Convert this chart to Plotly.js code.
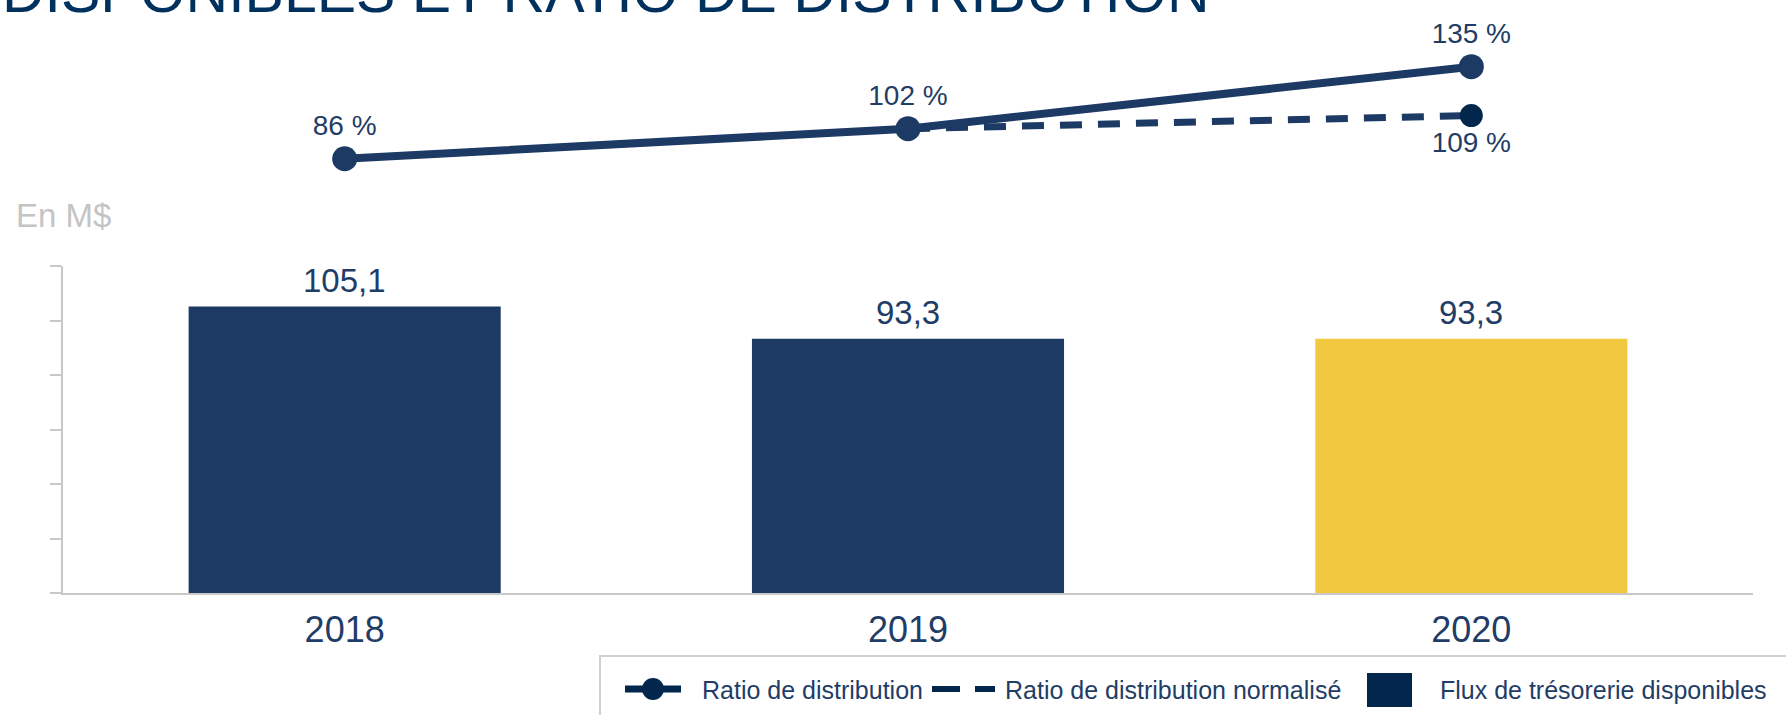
<!DOCTYPE html>
<html>
<head>
<meta charset="utf-8">
<script src="https://cdn.plot.ly/plotly-3.0.1.min.js"></script>
<style>html,body{margin:0;padding:0;background:#fff;}#chart{width:1786px;height:715px;}</style>
</head>
<body>
<div id="chart"></div>
<script>
// ---- data ----
const years = ['2018', '2019', '2020'];
const fluxValues = [105.1, 93.3, 93.3];
const ratioValues = [86, 102, 135];
const normYears = ['2019', '2020'];
const normValues = [102, 109];
const titleText = 'DISPONIBLES ET RATIO DE DISTRIBUTION';
const unitText = 'En M$';
const legendNames = ['Ratio de distribution', 'Ratio de distribution normalisé', 'Flux de trésorerie disponibles'];

// ---- styles ----
const NAVY = '#1c3a64';
const DARK = '#03264d';
const YELLOW = '#f2c840';
const TEXT = '#1f3d66';
const GRAY = '#c8c8c8';
const FONT = 'Liberation Sans, Arial, Helvetica, sans-serif';
const W = 1786, H = 715;
const M = {l: 63, r: 33, t: 30, b: 122};
const PW = W - M.l - M.r, PH = H - M.t - M.b;
const px = x => (x - M.l) / PW;
const py = y => (H - M.b - y) / PH;

const barColors = years.map((y, i) => i === years.length - 1 ? YELLOW : NAVY);
const fmtComma = v => v.toFixed(1).replace('.', ',');

const traces = [
  {
    type: 'bar', x: years, y: fluxValues, name: legendNames[2],
    marker: {color: barColors}, xaxis: 'x', yaxis: 'y', hoverinfo: 'skip'
  },
  {
    type: 'scatter', mode: 'lines+markers+text', x: normYears, y: normValues, name: legendNames[1],
    line: {color: NAVY, width: 7, dash: '22px,16px'},
    marker: {color: DARK, size: 23},
    text: normValues.map((v, i) => i === normValues.length - 1 ? v + ' %' : ''),
    textposition: 'bottom center',
    textfont: {family: FONT, size: 28, color: TEXT},
    cliponaxis: false, xaxis: 'x', yaxis: 'y2', hoverinfo: 'skip'
  },
  {
    type: 'scatter', mode: 'lines+markers+text', x: years, y: ratioValues, name: legendNames[0],
    line: {color: NAVY, width: 8},
    marker: {color: NAVY, size: 25},
    text: ratioValues.map(v => v + ' %'),
    textposition: 'top center',
    textfont: {family: FONT, size: 28, color: TEXT},
    cliponaxis: false, xaxis: 'x', yaxis: 'y2', hoverinfo: 'skip'
  }
];

const annotations = [
  {text: titleText, xref: 'paper', yref: 'paper', x: px(0), y: py(27), xanchor: 'left', yanchor: 'bottom',
   showarrow: false, font: {family: FONT, size: 59, color: '#00305e'}},
  {text: unitText, xref: 'paper', yref: 'paper', x: px(63), y: py(215), xanchor: 'center', yanchor: 'middle',
   showarrow: false, font: {family: FONT, size: 33, color: '#c4c4c4'}}
];
// bar value labels (category index positions on the x axis)
fluxValues.forEach((v, i) => annotations.push({
  text: fmtComma(v), x: i, y: v, xref: 'x', yref: 'y', xanchor: 'center', yanchor: 'bottom',
  yshift: 6, showarrow: false, font: {family: FONT, size: 33, color: TEXT}
}));

// legend (manual, to match the boxed legend running off the page)
const legY = 690;
annotations.push(
  {text: legendNames[0], xref: 'paper', yref: 'paper', x: px(700), y: py(legY), xanchor: 'left', yanchor: 'middle', showarrow: false, font: {family: FONT, size: 25, color: TEXT}},
  {text: legendNames[1], xref: 'paper', yref: 'paper', x: px(1003), y: py(legY), xanchor: 'left', yanchor: 'middle', showarrow: false, font: {family: FONT, size: 25, color: TEXT}},
  {text: legendNames[2], xref: 'paper', yref: 'paper', x: px(1438), y: py(legY), xanchor: 'left', yanchor: 'middle', showarrow: false, font: {family: FONT, size: 25, color: TEXT}}
);
const shapes = [
  {type: 'rect', xref: 'paper', yref: 'paper', x0: px(600), x1: px(1800), y0: py(656), y1: py(740), line: {color: '#d0d0d0', width: 2}, fillcolor: 'rgba(0,0,0,0)'},
  {type: 'line', xref: 'paper', yref: 'paper', x0: px(625), x1: px(681), y0: py(689), y1: py(689), line: {color: DARK, width: 7}},
  {type: 'circle', xref: 'paper', yref: 'paper', x0: px(642), x1: px(664), y0: py(678), y1: py(700), line: {width: 0}, fillcolor: DARK},
  {type: 'line', xref: 'paper', yref: 'paper', x0: px(932), x1: px(995), y0: py(689), y1: py(689), line: {color: DARK, width: 6, dash: '28px,15px'}},
  {type: 'rect', xref: 'paper', yref: 'paper', x0: px(1367), x1: px(1412), y0: py(673), y1: py(707), line: {width: 0}, fillcolor: DARK}
];

const layout = {
  width: W, height: H, margin: M, paper_bgcolor: '#fff', plot_bgcolor: '#fff',
  showlegend: false, bargap: 0.446,
  font: {family: FONT, color: TEXT},
  xaxis: {type: 'category', range: [-0.5, 2.5], showline: true, linecolor: GRAY, linewidth: 2,
          ticks: '', showgrid: false, zeroline: false, tickfont: {family: FONT, size: 36, color: TEXT},
          ticklabelstandoff: 4, fixedrange: true},
  yaxis: {domain: [0, 327 / PH], range: [0, 120], dtick: 20, tick0: 0, showline: true, linecolor: GRAY, linewidth: 2,
          ticks: 'outside', ticklen: 11, tickwidth: 2, tickcolor: GRAY, showticklabels: false,
          showgrid: false, zeroline: false, fixedrange: true},
  yaxis2: {domain: [0.6, 1], range: [34.7, 154.5], visible: false, anchor: 'x', fixedrange: true},
  annotations: annotations, shapes: shapes
};

Plotly.newPlot('chart', traces, layout, {displayModeBar: false, staticPlot: true});
</script>
</body>
</html>
